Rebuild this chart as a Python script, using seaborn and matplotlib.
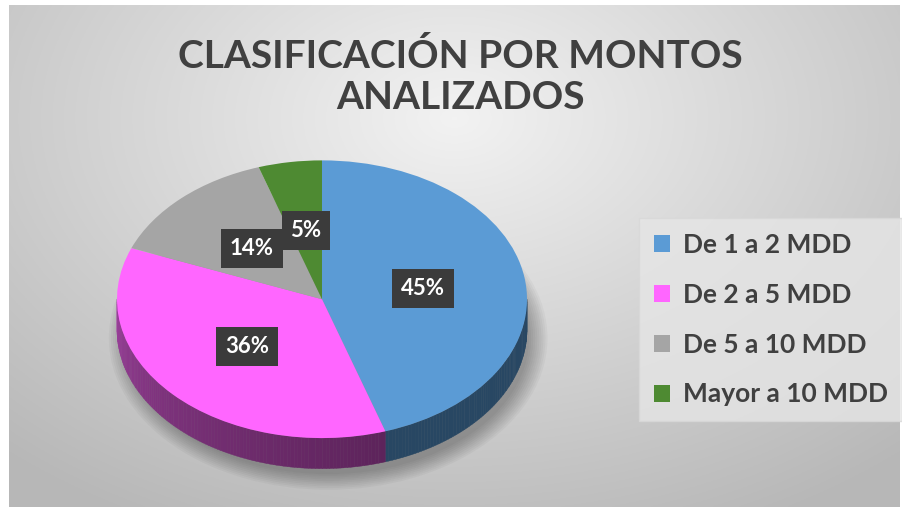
import numpy as np
import matplotlib
matplotlib.use("Agg")
import matplotlib.pyplot as plt
import seaborn as sns
from matplotlib.patches import Polygon, Ellipse

# Datos del gráfico
categorias = ["De 1 a 2 MDD", "De 2 a 5 MDD", "De 5 a 10 MDD", "Mayor a 10 MDD"]
porcentajes = [45, 36, 14, 5]
colores = ["#5b9bd5", "#ff66ff", "#a5a5a5", "#4e8a32"]
colores_lado = [("#1d3850", "#284763"), ("#a444a4", "#5c235a"), ("#555555", "#555555"), ("#2a4a1a", "#2a4a1a")]
titulo = "CLASIFICACIÓN POR MONTOS\nANALIZADOS"

sns.set_theme(style="white")
plt.rcParams["font.family"] = ["Lato", "DejaVu Sans"]

fig = plt.figure(figsize=(9.02, 5.09), dpi=100)
fig.patch.set_facecolor("white")

# Fondo con degradado radial
bg = fig.add_axes([9 / 902, 2 / 509, 891 / 902, 502 / 509])
yy, xx = np.mgrid[-1:1:300j, -1:1:500j]
dist = np.sqrt((xx * 0.9) ** 2 + ((yy + 0.55) * 0.75) ** 2)
gris = np.clip(0.95 - 0.17 * dist, 0.72, 0.95)
bg.imshow(np.dstack([gris, gris, gris]), aspect="auto", extent=[0, 1, 0, 1])
bg.set_axis_off()

# Ejes del pastel (elipse en perspectiva)
ax = fig.add_axes([96.5 / 902, 1.5 / 509, 451 / 902, 361 / 509])
ax.set_axis_off()
ax.patch.set_alpha(0)
prof = 0.22

# Sombra suave bajo el pastel
for i in range(10):
    ax.add_patch(Ellipse((0.03, -prof - 0.06), 1.96 + 0.02 * i, 1.96 + 0.025 * i,
                         facecolor="black", alpha=0.03, lw=0, zorder=0, clip_on=False))

wedges, textos, autotextos = ax.pie(
    porcentajes, colors=colores, startangle=90, counterclock=False,
    autopct="%1.0f%%", pctdistance=0.5, radius=1.0,
    wedgeprops=dict(linewidth=0, zorder=3),
    textprops=dict(color="white", fontsize=16, fontweight="bold"),
)
ax.set_aspect("auto")
ax.set_xlim(-1.1, 1.1)
ax.set_ylim(-1.5, 1.1)

# Lado del cilindro (mitad frontal)
for w, (c1, c2) in zip(wedges, colores_lado):
    for off in (-360, 0, 360):
        a = max(w.theta1 + off, -180)
        b = min(w.theta2 + off, 0)
        if a >= b:
            continue
        ts = np.linspace(a, b, int(b - a) + 2)
        for j in range(len(ts) - 1):
            t0, t1 = np.radians(ts[j]), np.radians(ts[j + 1])
            f = min(1, ((ts[j] + 180) / 110) ** 0.6)
            col = np.array(matplotlib.colors.to_rgb(c1)) * (1 - f) + np.array(matplotlib.colors.to_rgb(c2)) * f
            pts = [(np.cos(t0), np.sin(t0)), (np.cos(t1), np.sin(t1)),
                   (np.cos(t1), np.sin(t1) - prof), (np.cos(t0), np.sin(t0) - prof)]
            ax.add_patch(Polygon(pts, closed=True, facecolor=col, edgecolor=col, lw=0.3, zorder=2))

# Etiquetas en cajas oscuras
for t in autotextos:
    t.set_bbox(dict(boxstyle="square,pad=0.4", facecolor="#3b3b3b", edgecolor="none"))
    t.set_zorder(5)

fig.text(0.51, 0.85, titulo, ha="center", va="center", fontsize=28, fontweight="bold",
         color="#404040", linespacing=1.22)

leg = fig.legend(wedges, categorias, loc="center left", bbox_to_anchor=(0.703, 0.372),
                 fontsize=19, frameon=True, handlelength=0.6, handleheight=0.6,
                 labelspacing=0.98, handletextpad=0.5, borderpad=0.25)
leg.get_frame().set_facecolor("#e6e6e6")
leg.get_frame().set_edgecolor("#d8d8d8")
leg.get_frame().set_boxstyle("square")
for txt in leg.get_texts():
    txt.set_color("#404040")
    txt.set_fontweight("bold")

fig.savefig("out.png", dpi=100)
